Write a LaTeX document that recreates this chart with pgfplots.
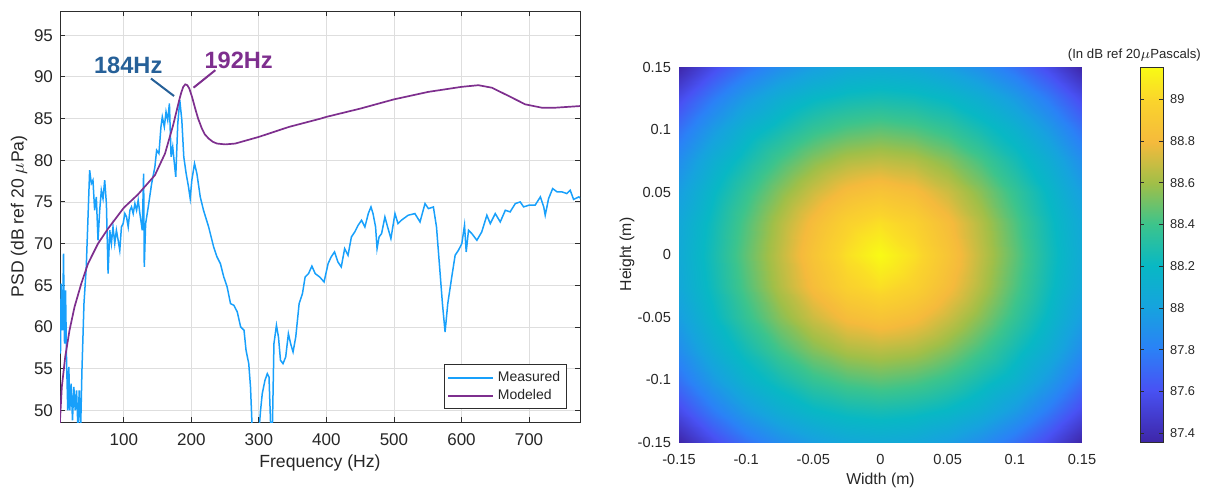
\documentclass[border=0pt]{standalone}
\usepackage{fontspec}
\setmainfont{Liberation Sans}
\usepackage{pgfplots}
\pgfplotsset{compat=1.18}
\definecolor{axgray}{RGB}{45,45,45}
\definecolor{labgray}{RGB}{38,38,38}
\definecolor{gridgray}{RGB}{222,222,222}
\definecolor{meas}{RGB}{24,160,251}
\definecolor{cmod}{RGB}{126,47,142}
\definecolor{c184}{RGB}{38,96,152}
\begin{document}
\begin{tikzpicture}
\useasboundingbox (0,0) rectangle (603pt,244.5pt);
% ---------------- left: PSD ----------------
\begin{axis}[
 name=left, at={(30pt,33.5pt)}, anchor=south west,
 width=260pt, height=205.5pt, scale only axis,
 /pgf/number format/assume math mode=true,
 xmin=5.5, xmax=775.5, ymin=48.6, ymax=97.9,
 xtick={100,200,300,400,500,600,700}, ytick={50,55,60,65,70,75,80,85,90,95},
 grid=major, grid style={line width=0.4pt, color=gridgray},
 axis line style={line width=0.45pt, color=axgray},
 tick style={color=axgray, line width=0.45pt},
 tick align=inside, major tick length=2.5pt,
 ticklabel style={font=\fontsize{8.5}{10}\selectfont, text=labgray},
 xticklabel style={yshift=-2.2pt},
 label style={font=\fontsize{8.8}{10}\selectfont, text=labgray},
 xlabel={Frequency (Hz)}, ylabel={PSD (dB ref 20 $\mu$Pa)},
 xlabel style={at={(axis description cs:0.5,-0.0998)}, anchor=center},
 ylabel style={at={(axis description cs:-0.0788,0.5)}, anchor=center},
 legend style={at={(1,0)}, anchor=south east, xshift=-6.5pt, yshift=6.4pt,
   font=\fontsize{7}{8}\selectfont, draw=axgray,
   inner sep=1.2pt, row sep=-1.5pt, text=labgray},
 legend cell align=left,
 legend image code/.code={\draw[#1, line width=0.9pt] (0pt,0pt) -- (22.5pt,0pt);},
]
\addplot[meas, line width=0.75pt] coordinates {
(5.5,62.0) (6.2,56.8) (7.2,65.2) (8.2,60.5) (9.2,59.6) (10.7,68.8) (12.2,58.0) (13.7,64.4) (15.2,56.0) (17.0,50.0) (18.6,55.2) (20.0,50.0) (22.0,53.2) (24.0,48.8) (26.0,52.8) (28.0,50.0) (30.0,52.4) (32.0,48.0) (34.0,52.4) (36.0,47.5) (38.0,54.8) (41.0,62.8) (44.4,67.2) (47.0,73.2) (49.4,78.8) (51.9,77.2) (54.3,77.6) (56.8,74.0) (59.3,75.6) (61.8,70.4) (64.3,74.0) (66.7,76.4) (69.2,75.4) (71.7,77.6) (74.2,74.8) (76.7,66.4) (79.2,71.6) (81.6,70.0) (84.0,72.0) (86.6,70.0) (89.0,71.6) (91.6,70.4) (94.0,69.2) (96.5,72.0) (99.0,72.4) (101.5,73.6) (104.0,73.2) (106.5,72.0) (109.0,74.0) (111.4,74.4) (113.9,73.6) (116.4,74.8) (118.9,74.0) (121.3,75.2) (123.8,73.6) (127.3,71.6) (129.3,78.4) (130.3,67.2) (132.3,72.4) (136.2,74.4) (141.2,77.2) (146.0,79.2) (148.6,81.2) (152.0,80.8) (155.0,84.0) (157.0,85.2) (160.0,84.0) (162.5,85.8) (165.0,84.8) (167.5,86.8) (170.0,80.4) (172.4,81.6) (174.9,79.6) (176.9,78.0) (179.9,84.4) (182.9,87.2) (185.9,84.8) (188.8,80.4) (192.3,78.4) (195.8,76.8) (198.3,75.4) (200.7,77.6) (204.7,79.6) (208.2,78.4) (213.2,75.6) (218.0,74.0) (225.6,72.0) (233.0,69.6) (238.0,68.4) (243.0,67.6) (248.0,66.0) (253.0,64.8) (258.0,62.8) (263.0,62.6) (268.0,61.8) (273.0,60.0) (278.0,59.6) (281.0,57.2) (285.0,55.6) (287.6,52.8) (290.0,48.0) (293,44) (298,44) (300.5,48.0) (302.5,50.0) (305.0,52.0) (309.0,53.6) (312.5,54.4) (315.0,54.0) (317.5,48.0) (319,44) (320.5,50) (322.3,58.0) (326.0,60.2) (329.0,58.8) (332.0,56.0) (335.7,55.6) (339.7,56.4) (343.7,59.2) (347.0,58.0) (350.6,57.0) (354.6,58.8) (359.6,62.8) (364.5,64.0) (368.5,66.0) (373.5,66.4) (378.5,67.3) (383.4,66.4) (390,66.0) (396.5,65.4) (402.5,67.6) (407,68.4) (412,69.0) (417,67.8) (422,67.2) (427,69.4) (432,68.6) (437,70.8) (442,71.4) (447,72.2) (452,72.8) (457,72.0) (462,73.6) (466,74.4) (469,73.6) (472.8,72.0) (475,69.4) (478,70.8) (481.7,71.2) (486.6,73.2) (490.6,72.0) (495.5,70.6) (501.5,73.6) (506,72.4) (511,72.8) (521,73.4) (531,73.6) (538.6,72.6) (546,74.8) (551,74.2) (558.4,74.4) (563,72.0) (568,66.8) (571.8,62.8) (575.7,59.4) (579.7,62.8) (585.6,66.0) (590.6,68.6) (595.5,69.2) (600.5,70.0) (604.5,72.2) (607,69.0) (610.4,71.6) (615.3,71.2) (622.8,70.4) (630,71.4) (637.6,73.4) (642.6,72.4) (650,73.6) (657.4,72.6) (664.9,74.0) (672,73.8) (679.7,74.8) (687,75.0) (692,74.4) (699.5,74.6) (709,74.6) (716.8,75.6) (721.8,74.4) (724,73.4) (729,75.4) (735,76.6) (741.6,76.2) (749,76.2) (756,76.0) (761,76.4) (766,75.3) (773.8,75.6) (777,75.4)
};
\addlegendentry{Measured}
\addplot[cmod, line width=0.85pt] coordinates {
(5.0,47.0) (5.5,48.8) (8.2,52.8) (13.2,56.4) (19.6,59.6) (27,62.4) (37,65.2) (47,67.6) (61.8,70.0) (76.7,71.8) (100,74.3) (121,75.9) (146,78.2) (161,80.8) (173,84.2) (182,87.2) (185,88.1) (188,88.8) (191,89.1) (194,89.0) (197,88.6) (201,87.6) (205.7,86.2) (210,85.0) (215.6,83.8) (220,83.1) (225.6,82.6) (232,82.2) (238,82.0) (250,81.9) (265,82.0) (300,82.8) (344.7,84.0) (391.8,85.0) (400,85.2) (450.5,86.2) (500,87.3) (551,88.2) (600,88.8) (625,89.0) (645,88.7) (670,87.7) (694.5,86.7) (719,86.3) (739,86.3) (776,86.5)
};
\addlegendentry{Modeled}
\node[font=\bfseries\fontsize{11.8}{13}\selectfont, text=c184] at (axis cs:106.5,91.4) {184Hz};
\draw[c184, line width=1pt] (axis cs:140.2,89.8) -- (axis cs:174.4,87.7);
\node[font=\bfseries\fontsize{11.8}{13}\selectfont, text=cmod] at (axis cs:270,92) {192Hz};
\draw[cmod, line width=1pt] (axis cs:235.5,90.8) -- (axis cs:203.2,88.7);
\end{axis}
% ---------------- right: heatmap ----------------
\begin{axis}[
 name=right, at={(339.5pt,23.5pt)}, anchor=south west,
 width=201.5pt, height=187.5pt, scale only axis,
 view={0}{90},
 xmin=-0.15, xmax=0.15, ymin=-0.15, ymax=0.15, enlargelimits=false,
 xtick={-0.15,-0.1,-0.05,0,0.05,0.1,0.15}, ytick={-0.15,-0.1,-0.05,0,0.05,0.1,0.15}, ztick=\empty,
 xticklabels={-0.15,-0.1,-0.05,0,0.05,0.1,0.15},
 yticklabels={-0.15,-0.1,-0.05,0,0.05,0.1,0.15},
 scaled ticks=false,
 axis line style={draw=none}, major tick length=0pt,
 ticklabel style={font=\fontsize{7.3}{8.5}\selectfont, text=labgray},
 xticklabel style={yshift=-2.5pt},
 yticklabel style={xshift=-0.5pt},
 label style={font=\fontsize{7.9}{9}\selectfont, text=labgray},
 xlabel={Width (m)}, ylabel={Height (m)},
 xlabel style={at={(axis description cs:0.5,-0.1013)}, anchor=center},
 ylabel style={at={(axis description cs:-0.129,0.5)}, anchor=center},
 colormap={parula}{rgb255(0pt)=(62,38,168) rgb255(14pt)=(72,82,244) rgb255(25pt)=(42,130,246) rgb255(36pt)=(22,163,222) rgb255(47pt)=(8,184,196) rgb255(58pt)=(60,196,140) rgb255(69pt)=(160,191,72) rgb255(80pt)=(245,186,60) rgb255(91pt)=(250,212,44) rgb255(100pt)=(249,251,20)},
 point meta min=87.358, point meta max=89.154,
 colorbar,
 colorbar style={width=11.5pt, at={(parent axis.north east)}, anchor=north west, xshift=20.5pt,
   ytick={87.4,87.6,87.8,88,88.2,88.4,88.6,88.8,89},
   yticklabels={87.4,87.6,87.8,88,88.2,88.4,88.6,88.8,89},
   yticklabel style={font=\fontsize{6.4}{7.5}\selectfont, text=labgray},
   axis line style={line width=0.4pt, color=axgray},
   tick style={color=axgray, line width=0.4pt}, tick align=inside, major tick length=2pt},
 after end axis/.code={\node[font=\fontsize{6.6}{7.5}\selectfont, text=labgray] at (axis description cs:1.13,1.032) {(In dB ref 20$\mu$Pascals)};},
]
\addplot3[surf, shader=interp] coordinates {
(-0.15,-0.15,87.36) (-0.125,-0.15,87.57) (-0.1,-0.15,87.74) (-0.075,-0.15,87.88) (-0.05,-0.15,87.98) (-0.025,-0.15,88.05) (0,-0.15,88.07) (0.025,-0.15,88.05) (0.05,-0.15,87.98) (0.075,-0.15,87.88) (0.1,-0.15,87.74) (0.125,-0.15,87.57) (0.15,-0.15,87.36)

(-0.15,-0.125,87.57) (-0.125,-0.125,87.78) (-0.1,-0.125,87.96) (-0.075,-0.125,88.10) (-0.05,-0.125,88.19) (-0.025,-0.125,88.24) (0,-0.125,88.26) (0.025,-0.125,88.24) (0.05,-0.125,88.19) (0.075,-0.125,88.10) (0.1,-0.125,87.96) (0.125,-0.125,87.78) (0.15,-0.125,87.57)

(-0.15,-0.1,87.74) (-0.125,-0.1,87.96) (-0.1,-0.1,88.14) (-0.075,-0.1,88.26) (-0.05,-0.1,88.37) (-0.025,-0.1,88.44) (0,-0.1,88.47) (0.025,-0.1,88.44) (0.05,-0.1,88.37) (0.075,-0.1,88.26) (0.1,-0.1,88.14) (0.125,-0.1,87.96) (0.15,-0.1,87.74)

(-0.15,-0.075,87.88) (-0.125,-0.075,88.10) (-0.1,-0.075,88.26) (-0.075,-0.075,88.42) (-0.05,-0.075,88.55) (-0.025,-0.075,88.64) (0,-0.075,88.67) (0.025,-0.075,88.64) (0.05,-0.075,88.55) (0.075,-0.075,88.42) (0.1,-0.075,88.26) (0.125,-0.075,88.10) (0.15,-0.075,87.88)

(-0.15,-0.05,87.98) (-0.125,-0.05,88.19) (-0.1,-0.05,88.37) (-0.075,-0.05,88.55) (-0.05,-0.05,88.70) (-0.025,-0.05,88.82) (0,-0.05,88.87) (0.025,-0.05,88.82) (0.05,-0.05,88.70) (0.075,-0.05,88.55) (0.1,-0.05,88.37) (0.125,-0.05,88.19) (0.15,-0.05,87.98)

(-0.15,-0.025,88.05) (-0.125,-0.025,88.24) (-0.1,-0.025,88.44) (-0.075,-0.025,88.64) (-0.05,-0.025,88.82) (-0.025,-0.025,88.97) (0,-0.025,89.04) (0.025,-0.025,88.97) (0.05,-0.025,88.82) (0.075,-0.025,88.64) (0.1,-0.025,88.44) (0.125,-0.025,88.24) (0.15,-0.025,88.05)

(-0.15,0,88.07) (-0.125,0,88.26) (-0.1,0,88.47) (-0.075,0,88.67) (-0.05,0,88.87) (-0.025,0,89.04) (0,0,89.15) (0.025,0,89.04) (0.05,0,88.87) (0.075,0,88.67) (0.1,0,88.47) (0.125,0,88.26) (0.15,0,88.07)

(-0.15,0.025,88.05) (-0.125,0.025,88.24) (-0.1,0.025,88.44) (-0.075,0.025,88.64) (-0.05,0.025,88.82) (-0.025,0.025,88.97) (0,0.025,89.04) (0.025,0.025,88.97) (0.05,0.025,88.82) (0.075,0.025,88.64) (0.1,0.025,88.44) (0.125,0.025,88.24) (0.15,0.025,88.05)

(-0.15,0.05,87.98) (-0.125,0.05,88.19) (-0.1,0.05,88.37) (-0.075,0.05,88.55) (-0.05,0.05,88.70) (-0.025,0.05,88.82) (0,0.05,88.87) (0.025,0.05,88.82) (0.05,0.05,88.70) (0.075,0.05,88.55) (0.1,0.05,88.37) (0.125,0.05,88.19) (0.15,0.05,87.98)

(-0.15,0.075,87.88) (-0.125,0.075,88.10) (-0.1,0.075,88.26) (-0.075,0.075,88.42) (-0.05,0.075,88.55) (-0.025,0.075,88.64) (0,0.075,88.67) (0.025,0.075,88.64) (0.05,0.075,88.55) (0.075,0.075,88.42) (0.1,0.075,88.26) (0.125,0.075,88.10) (0.15,0.075,87.88)

(-0.15,0.1,87.74) (-0.125,0.1,87.96) (-0.1,0.1,88.14) (-0.075,0.1,88.26) (-0.05,0.1,88.37) (-0.025,0.1,88.44) (0,0.1,88.47) (0.025,0.1,88.44) (0.05,0.1,88.37) (0.075,0.1,88.26) (0.1,0.1,88.14) (0.125,0.1,87.96) (0.15,0.1,87.74)

(-0.15,0.125,87.57) (-0.125,0.125,87.78) (-0.1,0.125,87.96) (-0.075,0.125,88.10) (-0.05,0.125,88.19) (-0.025,0.125,88.24) (0,0.125,88.26) (0.025,0.125,88.24) (0.05,0.125,88.19) (0.075,0.125,88.10) (0.1,0.125,87.96) (0.125,0.125,87.78) (0.15,0.125,87.57)

(-0.15,0.15,87.36) (-0.125,0.15,87.57) (-0.1,0.15,87.74) (-0.075,0.15,87.88) (-0.05,0.15,87.98) (-0.025,0.15,88.05) (0,0.15,88.07) (0.025,0.15,88.05) (0.05,0.15,87.98) (0.075,0.15,87.88) (0.1,0.15,87.74) (0.125,0.15,87.57) (0.15,0.15,87.36)
};
\end{axis}
\end{tikzpicture}
\end{document}
